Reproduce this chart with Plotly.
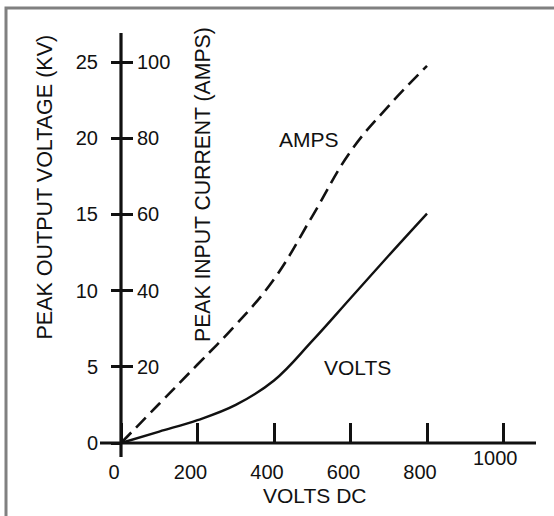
import plotly.graph_objects as go

# ---- data ----
volts_dc_v = [0, 100, 200, 300, 400, 500, 600, 700, 800]
peak_kv = [0, 0.75, 1.5, 2.5, 4.1, 6.7, 9.5, 12.3, 15.05]

volts_dc_a = [0, 100, 200, 300, 400, 500, 600, 700, 800]
peak_amps = [0, 10.3, 20.6, 31, 43, 59.5, 76.5, 88.5, 99]

x_ticks = [0, 200, 400, 600, 800, 1000]
x_labels = ["0", "200", "400", "600", "800", ""]
far_label_x = 1000
far_label_text = "1000"
kv_ticks = [0, 5, 10, 15, 20, 25]
amp_ticks = [20, 40, 60, 80, 100]

# ---- layout geometry (pixels in a 554x516 figure) ----
W, H = 554, 516
X0_PX, Y0_PX = 121, 443          # pixel location of the origin
PX_PER_V = 76.5 / 200            # horizontal scale
PX_PER_KV = 381 / 25             # vertical scale
AMPS_PER_KV = 4

xr = [-X0_PX / PX_PER_V, (W - X0_PX) / PX_PER_V]
yr = [-(H - Y0_PX) / PX_PER_KV, Y0_PX / PX_PER_KV]
yr2 = [v * AMPS_PER_KV for v in yr]

INK = "#111111"
FONT = "Arial, Liberation Sans, sans-serif"
FS = 20

fig = go.Figure()
fig.add_trace(go.Scatter(x=volts_dc_v, y=peak_kv, mode="lines",
                         line=dict(color=INK, width=2.4, shape="spline", smoothing=1.1),
                         xaxis="x", yaxis="y", showlegend=False, hoverinfo="skip"))
fig.add_trace(go.Scatter(x=volts_dc_a, y=peak_amps, mode="lines",
                         line=dict(color=INK, width=2.6, dash="14px,7px", shape="spline", smoothing=1.2),
                         xaxis="x", yaxis="y2", showlegend=False, hoverinfo="skip"))

common = dict(showgrid=False, zeroline=False, showline=False, automargin=False,
              tickfont=dict(family=FONT, size=FS, color=INK), tickcolor=INK, tickwidth=3)

fig.update_layout(
    width=W, height=H,
    margin=dict(l=0, r=0, t=0, b=0),
    paper_bgcolor="white", plot_bgcolor="white",
    xaxis=dict(range=xr, domain=[0, 1], anchor="free", position=1 - Y0_PX / H,
               tickmode="array", tickvals=x_ticks, ticktext=x_labels,
               ticks="inside", ticklen=20, ticklabelshift=-7, ticklabelstandoff=15, **common),
    yaxis=dict(range=yr, domain=[0, 1], anchor="free", position=X0_PX / W, side="left",
               tickmode="array", tickvals=kv_ticks, ticktext=[str(v) for v in kv_ticks],
               ticks="outside", ticklen=10, ticklabelstandoff=9, **common),
    yaxis2=dict(range=yr2, domain=[0, 1], anchor="free", position=X0_PX / W, side="right",
                overlaying="y", tickmode="array", tickvals=amp_ticks,
                ticktext=[str(v) for v in amp_ticks],
                ticks="outside", ticklen=11, ticklabelstandoff=0, **common),
)

# axis lines
fig.add_shape(type="line", xref="x", yref="y", x0=(100 - X0_PX) / PX_PER_V, x1=(536 - X0_PX) / PX_PER_V,
              y0=0, y1=0, line=dict(color=INK, width=3.2))
fig.add_shape(type="line", xref="x", yref="y", x0=0, x1=0,
              y0=(Y0_PX - 457) / PX_PER_KV, y1=(Y0_PX - 33) / PX_PER_KV, line=dict(color=INK, width=3.2))
# outer frame
fig.add_shape(type="rect", xref="paper", yref="paper", x0=6 / W, y0=-0.05, x1=1.05, y1=1 - 8 / H,
              line=dict(color="#808080", width=3), fillcolor="rgba(0,0,0,0)")

# the 1000 label sits higher than the others in the reference
fig.add_annotation(x=far_label_x, y=0, xref="x", yref="y", text=far_label_text, showarrow=False,
                   font=dict(family=FONT, size=FS, color=INK), xanchor="center", yanchor="middle",
                   xshift=-8, yshift=-15)


def px_to_data(px, py):
    return (px - X0_PX) / PX_PER_V, (Y0_PX - py) / PX_PER_KV


for text, (px, py), ang, size in [
    ("PEAK OUTPUT VOLTAGE (KV)", (44, 187.5), -90, 21.5),
    ("PEAK INPUT CURRENT (AMPS)", (203, 185), -90, 21.2),
    ("VOLTS DC", (314, 495), 0, 21),
    ("AMPS", (308.5, 139), 0, 21),
    ("VOLTS", (357, 367), 0, 21),
]:
    ax, ay = px_to_data(px, py)
    fig.add_annotation(x=ax, y=ay, xref="x", yref="y", text=text, showarrow=False,
                       textangle=ang, font=dict(family=FONT, size=size, color=INK),
                       xanchor="center", yanchor="middle")

fig.write_html("out.html", config={"displayModeBar": False},
               post_script="document.body.style.margin='0';")
